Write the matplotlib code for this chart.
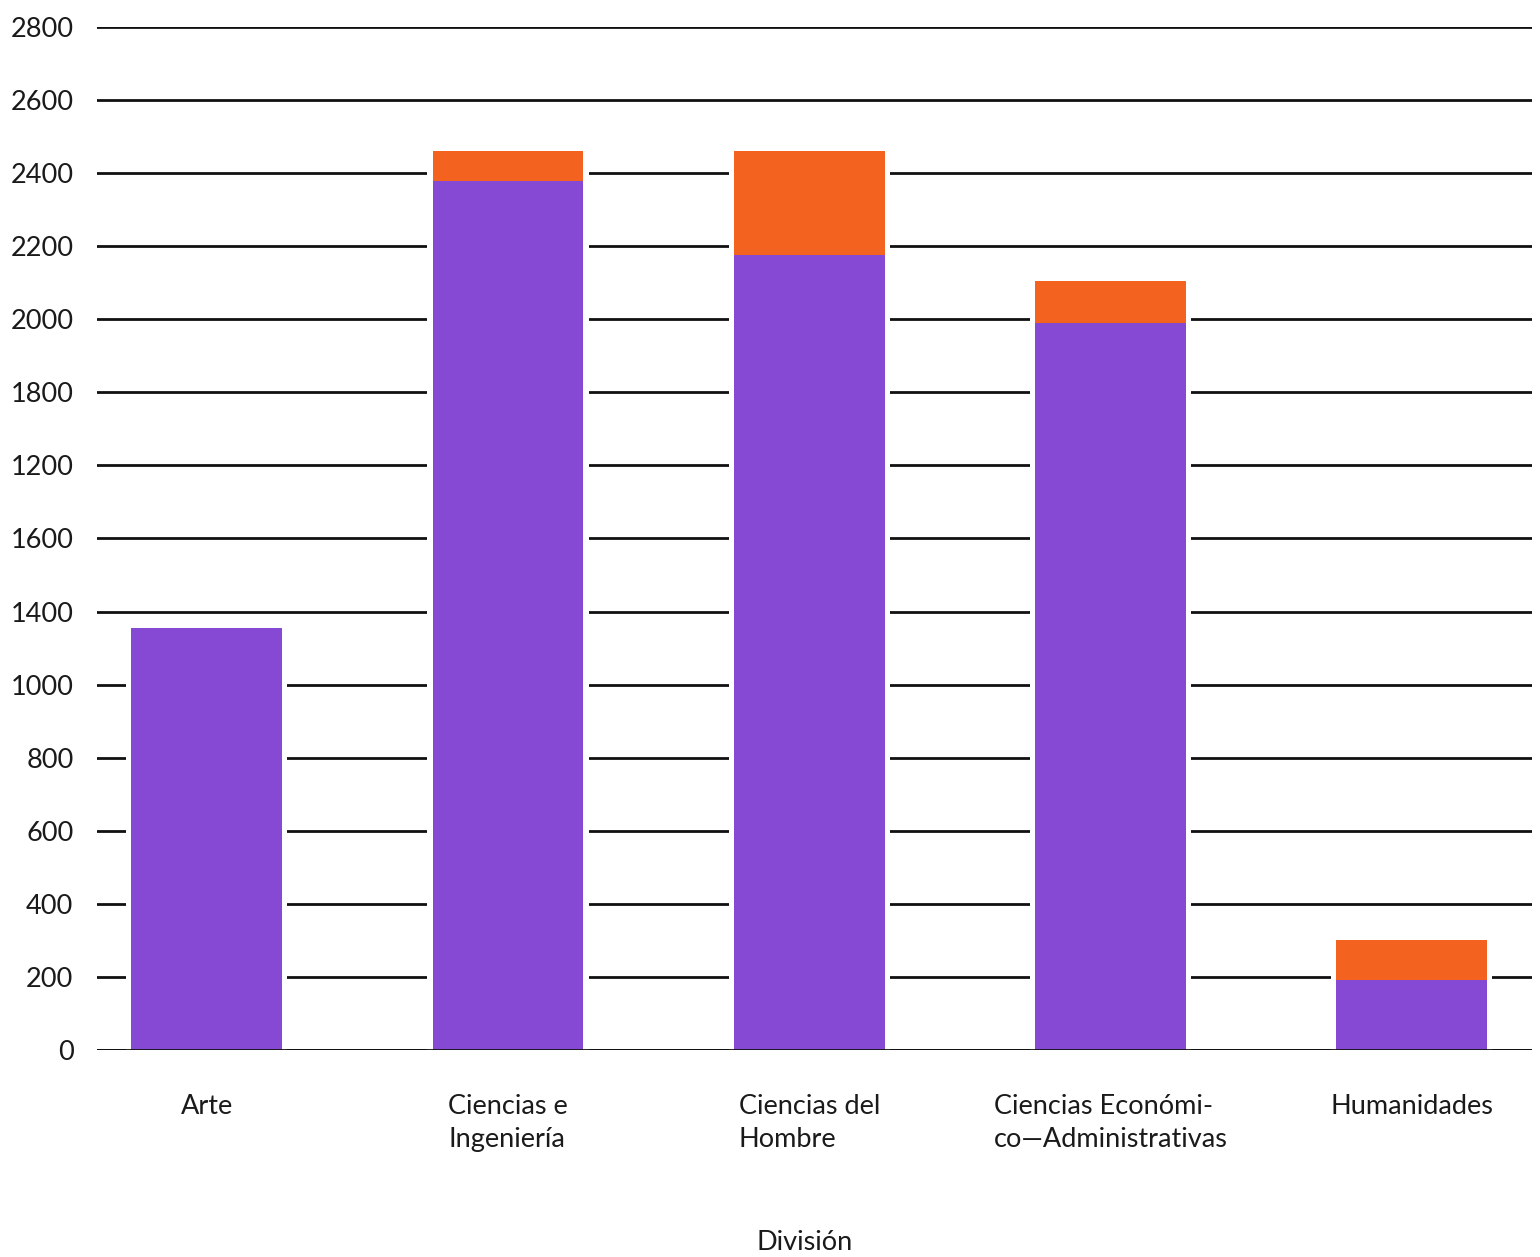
import matplotlib
matplotlib.use("Agg")
import matplotlib.pyplot as plt
import numpy as np

plt.rcParams['font.family'] = ['Lato', 'DejaVu Sans']

categories = ["Arte", "Ciencias e\nIngeniería", "Ciencias del\nHombre",
              "Ciencias Económi-\nco—Administrativas", "Humanidades"]
# values in the drawn (linear) axis units, one gridline step = 200
base_values = [1155, 2378, 2175, 1990, 192]
total_values = [1155, 2460, 2462, 2104, 301]
top_values = [t - b for t, b in zip(total_values, base_values)]

tick_positions = [0, 200, 400, 600, 800, 1000, 1200, 1400, 1600, 1800, 2000, 2200, 2400, 2600, 2800]
tick_labels = ["0", "200", "400", "600", "800", "1000", "1400", "1600", "1200", "1800",
               "2000", "2200", "2400", "2600", "2800"]

purple = "#8649d4"
orange = "#f4621f"
textc = "#1a1a1a"

fig = plt.figure(figsize=(15.40, 12.57), dpi=100)
ax = fig.add_axes([0.063, 0.1647, 0.932, 0.8138])

x = np.arange(len(categories))
w = 0.5

for yv in tick_positions:
    ax.axhline(yv, color="#111111", lw=2.0, zorder=1)

# white gaps around bars
ax.bar(x, total_values, width=w + 0.035, color="white", zorder=2)
ax.bar(x, base_values, width=w, color=purple, zorder=3)
ax.bar(x, top_values, bottom=base_values, width=w, color=orange, zorder=3)
ax.axhline(0, color="#111111", lw=2.0, zorder=4)

ax.set_xlim(-0.364, 4.40)
ax.set_ylim(0, 2800)
ax.set_yticks(tick_positions)
ax.set_yticklabels(tick_labels, fontsize=19.5, color=textc)
ax.set_xticks(x)
ax.set_xticklabels(categories, fontsize=19.5, color=textc)
for lab in ax.get_xticklabels():
    lab.set_multialignment("left")
    lab.set_linespacing(1.4)
ax.tick_params(axis="y", length=0, pad=17)
ax.tick_params(axis="x", length=0, pad=32)
for s in ax.spines.values():
    s.set_visible(False)

fig.text(805 / 1540, 1 - 1243 / 1257, "División", fontsize=19.5, color=textc,
         ha="center", va="center")

fig.savefig("out.png", dpi=100, facecolor="white")
